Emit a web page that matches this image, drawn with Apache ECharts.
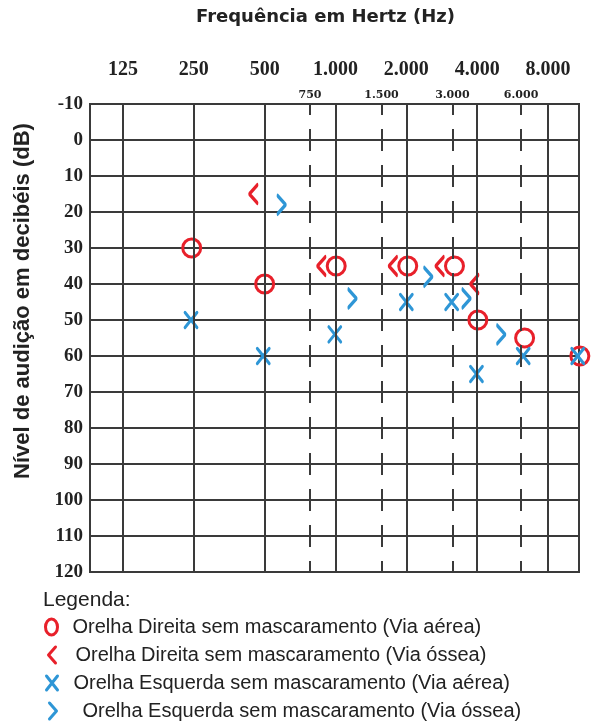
<!DOCTYPE html>
<html>
<head>
<meta charset="utf-8">
<script src="https://cdn.jsdelivr.net/npm/echarts@6/dist/echarts.min.js"></script>
<style>html,body{margin:0;padding:0;background:#fff;}#c{width:613px;height:723px;}</style>
</head>
<body>
<div id="c"></div>
<script>
// Frequency axis: positions are in octaves above 125 Hz (as drawn on the audiogram)
const mainFreqLabels = ['125', '250', '500', '1.000', '2.000', '4.000', '8.000'];
const mainFreqPos = [0, 1, 2, 3, 4, 5, 6];
const midFreqLabels = ['750', '1.500', '3.000', '6.000'];
const midFreqPos = [2.64, 3.65, 4.65, 5.62];
const dbTicks = [-10, 0, 10, 20, 30, 40, 50, 60, 70, 80, 90, 100, 110, 120];

const seriesNames = [
  'Orelha Direita sem mascaramento (Via aérea)',
  'Orelha Direita sem mascaramento (Via óssea)',
  'Orelha Esquerda sem mascaramento (Via aérea)',
  'Orelha Esquerda sem mascaramento (Via óssea)'
];
// [octave position, dB]
const rightAir = [[0.97, 30], [2.0, 40], [3.01, 35], [4.02, 35], [4.68, 35], [5.01, 50], [5.67, 55], [6.45, 60]];
const rightBone = [[1.84, 15], [2.80, 35], [3.81, 35], [4.47, 35], [4.96, 40]];
const leftAir = [[0.96, 50], [1.98, 60], [2.99, 54], [4.0, 45], [4.64, 45], [4.99, 65], [5.65, 60], [6.42, 60]];
const leftBone = [[2.24, 18], [3.24, 44], [4.31, 38], [4.85, 44], [5.34, 54]];

const RED = '#e8202a';
const BLUE = '#2e96d6';
const GRID = '#3a3a3a';
const TXT = '#222';
const ICON_O = 'path://M10,0A10,10 0 1,1 9.99,0Z';
const ICON_LT = 'path://M9,0L1,10L9,20';
const ICON_X = 'path://M0,0L12,15M12,0L0,15';
const ICON_GT = 'path://M0,0L8,10L0,20';

const chart = echarts.init(document.getElementById('c'), null, {renderer: 'canvas'});

const vLines = mainFreqPos.map(p => [{coord: [p, -10]}, {coord: [p, 120]}]);
const dLines = midFreqPos.map(p => [
  {coord: [p, -10], lineStyle: {type: [22, 14], dashOffset: 11, color: GRID, width: 2}},
  {coord: [p, 120]}
]);

function sc(name, data, symbol, size, color) {
  return {
    type: 'scatter', name, data, symbol, symbolSize: size, symbolKeepAspect: false,
    clip: false, xAxisIndex: 0,
    itemStyle: {color: 'transparent', borderColor: color, borderWidth: 3, borderCap: 'round', borderJoin: 'round', opacity: 1},
    emphasis: {disabled: true}
  };
}

function leg(i, icon, left, top, w, h, pad) {
  return {
    orient: 'vertical', left, top, padding: 0, itemWidth: w, itemHeight: h,
    selectedMode: false, symbolKeepAspect: false,
    itemStyle: {borderWidth: 3},
    textStyle: {fontFamily: 'Liberation Sans', fontSize: 20, color: TXT, padding: [0, 0, 0, pad]},
    data: [{name: seriesNames[i], icon}]
  };
}

const option = {
  animation: false,
  backgroundColor: '#fff',
  title: [
    {text: 'Frequência em Hertz (Hz)', left: 196, top: 8, padding: 0,
     textStyle: {fontFamily: 'DejaVu Sans', fontWeight: 'bold', fontSize: 18, color: TXT}},
    {text: 'Legenda:', left: 43, top: 590, padding: 0,
     textStyle: {fontFamily: 'Liberation Sans', fontWeight: 'normal', fontSize: 21, color: TXT}}
  ],
  graphic: [{
    type: 'text', x: 23, y: 301, rotation: Math.PI / 2,
    style: {text: 'Nível de audição em decibéis (dB)', fill: TXT,
            font: 'bold 22px "Liberation Sans"', align: 'center', verticalAlign: 'middle'}
  }],
  legend: [
    leg(0, ICON_O, 44, 617, 12, 16, 10),
    leg(1, ICON_LT, 47, 645, 7, 16, 15),
    leg(2, ICON_X, 45, 673, 11, 14, 11),
    leg(3, ICON_GT, 48, 701, 7, 16, 21)
  ],
  grid: {left: 90, top: 104, width: 489, height: 468, show: true, borderColor: GRID, borderWidth: 2, backgroundColor: 'transparent'},
  xAxis: [
    {type: 'value', position: 'top', min: -0.466, max: 6.438,
     axisLine: {show: false}, axisTick: {show: false}, splitLine: {show: false},
     axisLabel: {customValues: mainFreqPos, margin: 24,
       formatter: v => mainFreqLabels[mainFreqPos.indexOf(v)] || '',
       fontFamily: 'Liberation Serif', fontWeight: 'bold', fontSize: 20, color: TXT}},
    {type: 'value', position: 'top', min: -0.466, max: 6.438,
     axisLine: {show: false}, axisTick: {show: false}, splitLine: {show: false},
     axisLabel: {customValues: midFreqPos, margin: 3,
       formatter: v => midFreqLabels[midFreqPos.indexOf(v)] || '',
       fontFamily: 'DejaVu Serif', fontWeight: 'bold', fontSize: 11, color: TXT}}
  ],
  yAxis: {
    type: 'value', inverse: true, min: -10, max: 120, interval: 10,
    axisLine: {show: false}, axisTick: {show: false},
    splitLine: {show: true, lineStyle: {color: GRID, width: 2}},
    axisLabel: {margin: 7, fontFamily: 'Liberation Serif', fontWeight: 'bold', fontSize: 19, color: TXT,
      formatter: v => dbTicks.indexOf(v) >= 0 ? String(v) : ''}
  },
  series: [
    {type: 'scatter', name: '_grid', data: [], xAxisIndex: 0, silent: true,
     markLine: {silent: true, symbol: 'none', label: {show: false}, animation: false,
       lineStyle: {color: GRID, width: 2, type: 'solid'}, emphasis: {disabled: true},
       data: vLines.concat(dLines)}},
    sc(seriesNames[0], rightAir, 'circle', 18, RED),
    sc(seriesNames[1], rightBone, ICON_LT, [8, 18], RED),
    sc(seriesNames[2], leftAir, ICON_X, [12, 15], BLUE),
    sc(seriesNames[3], leftBone, ICON_GT, [8, 18], BLUE)
  ]
};
chart.setOption(option);
</script>
</body>
</html>
